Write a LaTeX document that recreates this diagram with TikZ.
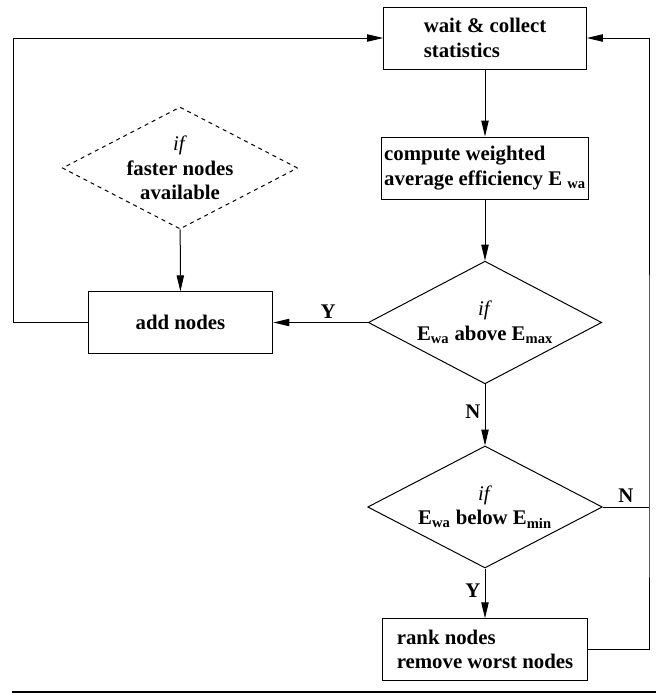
\documentclass[tikz,border=0pt]{standalone}
\usepackage{fontspec}
\setmainfont{Liberation Serif}
\usetikzlibrary{shapes.geometric,arrows.meta}

\tikzset{every picture/.style={line width=0.75pt}}
\tikzset{
  stepbox/.style={draw, rectangle, align=left, inner sep=2pt},
  decision/.style={draw, diamond, aspect=2, inner sep=0pt, align=center},
  arr/.style={-{Triangle[length=12pt,width=5.5pt]}},
  lbl/.style={inner sep=3pt}
}

\begin{document}
\begin{tikzpicture}[x=0.75pt,y=0.75pt,yscale=-1,xscale=1,
    font=\fontsize{15.6}{18.5}\selectfont\bfseries]
    \useasboundingbox (0,0) rectangle (656,694);

    %Shape: Rectangle wait
    \node [stepbox, minimum width=152pt, minimum height=46.5pt] (wait) at (485, 38)
          {wait \& collect\\statistics};

    %Shape: Rectangle compute
    \node [stepbox, minimum width=152pt, minimum height=46.5pt] (comp) at (485, 168)
          {compute weighted\\average efficiency E \textsubscript{wa}};

    %Shape: Diamond above
    \node [decision, minimum width=175pt, minimum height=92pt] (above) at (485, 322.5)
          {\textit{\mdseries if}\\E\textsubscript{wa} above E\textsubscript{max}};

    %Shape: Diamond below
    \node [decision, minimum width=176pt, minimum height=91.5pt] (below) at (485, 507)
          {\textit{\mdseries if}\\E\textsubscript{wa} below E\textsubscript{min}};

    %Shape: Rectangle rank
    \node [stepbox, minimum width=153.5pt, minimum height=46pt] (rank) at (485, 649.5)
          {rank nodes\\remove worst nodes};

    %Shape: Rectangle add
    \node [stepbox, minimum width=138.5pt, minimum height=46pt] (add) at (180.5, 322.5)
          {add nodes};

    %Shape: Diamond faster (dashed)
    \node [decision, dashed, minimum width=175.5pt, minimum height=91.5pt] (faster) at (180, 168)
          {\textit{\mdseries if}\\faster nodes\\available};

    %Loop corners
    \coordinate (lloop) at (13, 322.5);
    \coordinate (rloop) at (649, 507);

    %Arrows: main column
    \draw [arr] (wait) -- (comp);
    \draw [arr] (comp) -- (above);
    \draw [arr] (above) -- node [lbl, left, pos=0.45] {N} (below);
    \draw [arr] (below) -- node [lbl, left, pos=0.45] {Y} (rank);

    %Arrows: add nodes branch
    \draw [arr] (above.west) -- node [lbl, above, pos=0.42] {Y} (add.east);
    \draw [arr] (faster) -- (add);
    \draw [arr] (add.west) -- (lloop) |- (wait.west);

    %Arrows: right loop
    \draw (below.east) -- node [lbl, above] {N} (rloop);
    \draw [arr] (rank.east) -| (rloop) |- (wait.east);

    %Rule at the bottom
    \draw [line width=2pt] (12, 692) -- (656, 692);
  \end{tikzpicture}
\end{document}
